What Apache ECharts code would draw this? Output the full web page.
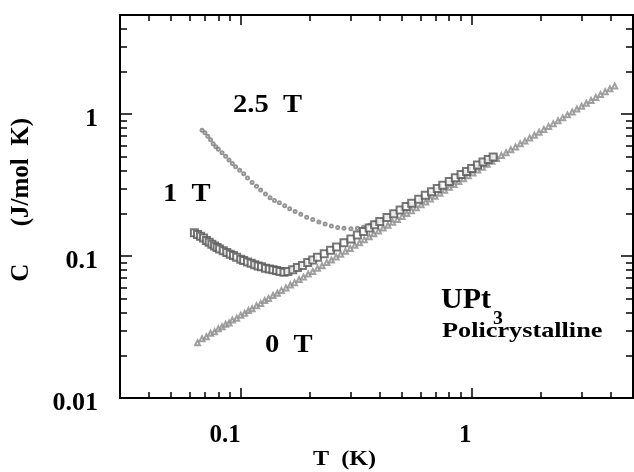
<!DOCTYPE html>
<html>
<head>
<meta charset="utf-8">
<script src="https://cdn.jsdelivr.net/npm/echarts@6/dist/echarts.min.js"></script>
<style>
  html, body { margin: 0; padding: 0; background: #fff; }
  #chart { width: 634px; height: 472px; }
</style>
</head>
<body>
<div id="chart"></div>
<script>
// UPt3 policrystalline, specific heat C (J/mol K) against T (K)

// 0 T
const t0 = [0.065, 0.068, 0.071, 0.074, 0.077, 0.080, 0.083, 0.086, 0.089, 0.092, 0.096, 0.100,
  0.104, 0.108, 0.112, 0.117, 0.122, 0.127, 0.132, 0.138, 0.144, 0.150, 0.157, 0.164, 0.171,
  0.179, 0.187, 0.196, 0.205, 0.215, 0.225, 0.236, 0.247, 0.259, 0.271, 0.284, 0.298, 0.312,
  0.327, 0.343, 0.360, 0.377, 0.395, 0.414, 0.434, 0.455, 0.477, 0.500, 0.524, 0.549, 0.576,
  0.604, 0.633, 0.663, 0.695, 0.729, 0.764, 0.801, 0.840, 0.880, 0.923, 0.967, 1.014, 1.063,
  1.114, 1.168, 1.224, 1.283, 1.345, 1.410, 1.478, 1.549, 1.624, 1.702, 1.784, 1.870, 1.960,
  2.055, 2.154, 2.258, 2.367, 2.481, 2.600, 2.726, 2.857, 2.995, 3.139, 3.291, 3.450, 3.616,
  3.790, 3.973, 4.165];
const c0 = [0.0245, 0.0262, 0.0270, 0.0286, 0.0293, 0.0308, 0.0318, 0.0331, 0.0338, 0.0354, 0.0365, 0.0383,
  0.0396, 0.0414, 0.0426, 0.0447, 0.0463, 0.0486, 0.0502, 0.0527, 0.0547, 0.0573, 0.0597, 0.0626, 0.0650,
  0.0683, 0.0711, 0.0748, 0.0779, 0.0820, 0.0855, 0.0900, 0.0939, 0.0987, 0.1030, 0.1082, 0.1133, 0.1190,
  0.1243, 0.1306, 0.1368, 0.1437, 0.1501, 0.1578, 0.1650, 0.1733, 0.1813, 0.1905, 0.1995, 0.2090, 0.2190,
  0.2300, 0.2405, 0.2525, 0.2640, 0.2775, 0.2905, 0.3050, 0.3190, 0.3350, 0.3505, 0.3680, 0.3850, 0.4045,
  0.4235, 0.4440, 0.4655, 0.4870, 0.5120, 0.5350, 0.5620, 0.5880, 0.6180, 0.6460, 0.6790, 0.7100, 0.7460,
  0.7800, 0.8200, 0.8580, 0.9000, 0.9420, 0.9890, 1.0350, 1.0870, 1.1380, 1.1940, 1.2500, 1.3110, 1.3740,
  1.4410, 1.5090, 1.5830];

// 1 T
const t1 = [0.063, 0.065, 0.067, 0.069, 0.071, 0.073, 0.075, 0.077, 0.079, 0.081, 0.084, 0.087,
  0.090, 0.093, 0.096, 0.100, 0.103, 0.107, 0.111, 0.115, 0.119, 0.123, 0.128, 0.133, 0.138,
  0.143, 0.148, 0.154, 0.160, 0.168, 0.176, 0.185, 0.195, 0.205, 0.215, 0.230, 0.245, 0.260,
  0.280, 0.300, 0.320, 0.340, 0.360, 0.380, 0.400, 0.430, 0.460, 0.490, 0.520, 0.550, 0.590,
  0.630, 0.670, 0.710, 0.750, 0.800, 0.850, 0.900, 0.950, 1.000, 1.060, 1.120, 1.180, 1.240];
const c1 = [0.146, 0.142, 0.138, 0.134, 0.129, 0.125, 0.121, 0.118, 0.115, 0.112, 0.109, 0.106,
  0.103, 0.101, 0.098, 0.095, 0.093, 0.091, 0.089, 0.087, 0.085, 0.084, 0.082, 0.081, 0.080,
  0.079, 0.078, 0.077, 0.078, 0.080, 0.083, 0.086, 0.090, 0.094, 0.098, 0.104, 0.110, 0.116,
  0.124, 0.132, 0.141, 0.149, 0.158, 0.166, 0.175, 0.187, 0.199, 0.211, 0.224, 0.236, 0.252,
  0.268, 0.284, 0.300, 0.316, 0.336, 0.356, 0.376, 0.395, 0.415, 0.438, 0.460, 0.480, 0.500];

// 2.5 T
const t25 = [0.068, 0.070, 0.072, 0.074, 0.076, 0.078, 0.080, 0.083, 0.086, 0.089, 0.092, 0.095,
  0.099, 0.103, 0.107, 0.112, 0.117, 0.122, 0.128, 0.134, 0.140, 0.147, 0.155, 0.163, 0.172,
  0.182, 0.193, 0.205, 0.218, 0.232, 0.247, 0.263, 0.280, 0.300, 0.320, 0.340, 0.360, 0.380,
  0.400, 0.430, 0.460, 0.500, 0.550, 0.600, 0.660, 0.720, 0.800, 0.880, 0.960, 1.050, 1.150, 1.250];
const c25 = [0.770, 0.740, 0.700, 0.660, 0.620, 0.590, 0.565, 0.535, 0.505, 0.475, 0.450, 0.427,
  0.403, 0.380, 0.355, 0.330, 0.310, 0.292, 0.274, 0.258, 0.246, 0.238, 0.226, 0.216, 0.206,
  0.197, 0.188, 0.181, 0.174, 0.168, 0.163, 0.159, 0.157, 0.156, 0.157, 0.160, 0.165, 0.171,
  0.178, 0.188, 0.198, 0.213, 0.232, 0.252, 0.276, 0.300, 0.332, 0.362, 0.395, 0.430, 0.470, 0.510];

// ticks
const xMajor = [0.1, 1];
const xMinor = [0.04, 0.05, 0.06, 0.07, 0.08, 0.09, 0.2, 0.3, 0.4, 0.5, 0.6, 0.7, 0.8, 0.9, 2, 3, 4];
const yMajor = [0.01, 0.1, 1];
const yMinor = [0.02, 0.03, 0.04, 0.05, 0.06, 0.07, 0.08, 0.09, 0.2, 0.3, 0.4, 0.5, 0.6, 0.7, 0.8, 0.9, 2, 3, 4];
const xLabels = [0.1, 1];
const yLabels = [0.01, 0.1, 1];

const FONT = 'Liberation Serif';
const pairs = (xs, ys) => xs.map((x, i) => [x, ys[i]]);
const fmt = v => String(+(+v).toPrecision(3));

function xAx (grid, pos, ticks, len, labels) {
  return {
    type: 'log', logBase: 10, gridIndex: grid, position: pos,
    min: 0.03, max: 5,
    axisLine: { show: true, lineStyle: { color: '#000', width: 2 } },
    axisTick: { show: true, inside: true, length: len, customValues: ticks, lineStyle: { color: '#000', width: 1.5 } },
    axisLabel: labels ? {
      show: true, customValues: labels, formatter: fmt, align: 'right', margin: 25,
      color: '#000', fontFamily: FONT, fontWeight: 'bold', fontSize: 25
    } : { show: false },
    splitLine: { show: false },
    minorTick: { show: false }
  }
}

function yAx (grid, pos, ticks, len, labels) {
  return {
    type: 'log', logBase: 10, gridIndex: grid, position: pos,
    min: 0.01, max: 5,
    axisLine: { show: true, lineStyle: { color: '#000', width: 2 } },
    axisTick: { show: true, inside: true, length: len, customValues: ticks, lineStyle: { color: '#000', width: 1.5 } },
    axisLabel: labels ? {
      show: true, customValues: labels, margin: 22,
      formatter: v => '{n|' + fmt(v) + '}',
      rich: { n: { padding: [10, 0, 0, 0], color: '#000', fontFamily: FONT, fontWeight: 'bold', fontSize: 26 } }
    } : { show: false },
    splitLine: { show: false },
    minorTick: { show: false }
  }
}

const gridBox = { left: 120, top: 15, width: 513, height: 383 };

const txt = (left, top, text, size, sx) => ({
  type: 'text', left: left, top: top, scaleX: sx || 1,
  style: { text: text, fill: '#000', font: 'bold ' + size + 'px "' + FONT + '"' }
});

const chart = echarts.init(document.getElementById('chart'));
chart.setOption({
  animation: false,
  backgroundColor: '#fff',
  grid: [Object.assign({}, gridBox), Object.assign({}, gridBox)],
  xAxis: [
    xAx(0, 'bottom', xMajor, 10, xLabels),
    xAx(0, 'top', xMajor, 10, null),
    xAx(1, 'bottom', xMinor, 6, null),
    xAx(1, 'top', xMinor, 6, null)
  ],
  yAxis: [
    yAx(0, 'left', yMajor, 12, yLabels),
    yAx(0, 'right', yMajor, 12, null),
    yAx(1, 'left', yMinor, 7, null),
    yAx(1, 'right', yMinor, 7, null)
  ],
  series: [
    {
      name: '0 T', type: 'scatter', xAxisIndex: 0, yAxisIndex: 0,
      data: pairs(t0, c0), symbol: 'emptyTriangle', symbolSize: 5,
      itemStyle: { color: '#8a8a8a', borderWidth: 0.8 }
    },
    {
      name: '2.5 T', type: 'scatter', xAxisIndex: 0, yAxisIndex: 0,
      data: pairs(t25, c25), symbol: 'emptyCircle', symbolSize: 3,
      itemStyle: { color: '#7a7a7a', borderWidth: 0.8 }
    },
    {
      name: '1 T', type: 'scatter', xAxisIndex: 0, yAxisIndex: 0,
      data: pairs(t1, c1), symbol: 'emptyRect', symbolSize: 7,
      itemStyle: { color: '#555', borderWidth: 1 }
    }
  ],
  graphic: [
    txt(233, 92, '2.5  T', 26, 1.1),
    txt(163, 181, '1  T', 26, 1.1),
    txt(265, 332, '0  T', 26, 1.1),
    txt(441, 285, 'UPt', 30, 1.0),
    txt(493, 310, '3', 18, 1.1),
    txt(442, 321, 'Policrystalline', 21, 1.25),
    txt(313, 448, 'T  (K)', 22, 1.1),
    {
      type: 'text', left: 9, top: 118, rotation: Math.PI / 2,
      style: { text: 'C      (J/mol  K)', fill: '#000', font: 'bold 25px "' + FONT + '"' }
    }
  ]
});
</script>
</body>
</html>
